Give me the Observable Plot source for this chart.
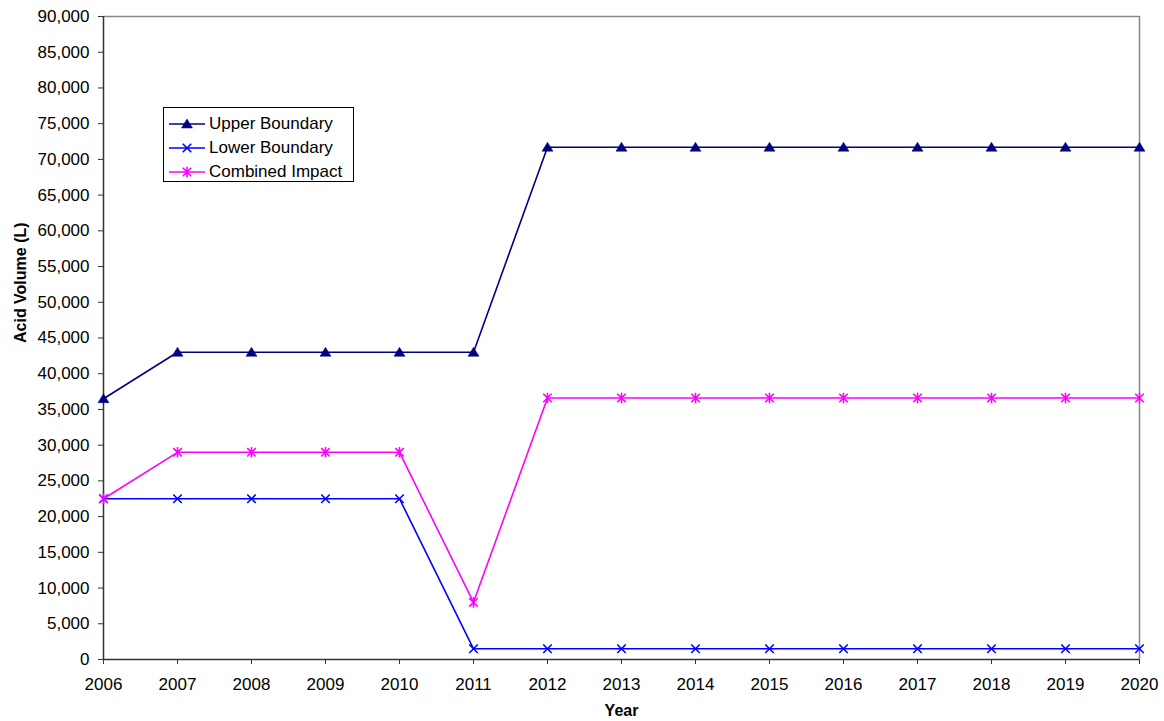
<!DOCTYPE html>
<html>
<head>
<meta charset="utf-8">
<script src="https://cdn.jsdelivr.net/npm/d3@7"></script>
<script src="https://cdn.jsdelivr.net/npm/@observablehq/plot@0.6"></script>
<style>
  body { margin: 0; background: #fff; font-family: "Liberation Sans", Arial, sans-serif; }
  #chart { position: relative; width: 1164px; height: 721px; }
  #legend {
    position: absolute; left: 163px; top: 107px; width: 191px; height: 75px;
    border: 1px solid #000; background: #fff; box-sizing: border-box;
    font-size: 17px; color: #000;
  }
  #legend .row { position: absolute; left: 0; height: 24px; display: flex; align-items: center; }
  #legend .row svg { display: block; }
  #legend .row span { margin-left: 4px; white-space: nowrap; }
</style>
</head>
<body>
<div id="chart"><div id="legend"></div></div>
<script>
// Acid volume by year, three scenarios
const years = [2006, 2007, 2008, 2009, 2010, 2011, 2012, 2013, 2014, 2015, 2016, 2017, 2018, 2019, 2020];
const upperBoundary = [36500, 43000, 43000, 43000, 43000, 43000, 71700, 71700, 71700, 71700, 71700, 71700, 71700, 71700, 71700];
const lowerBoundary = [22500, 22500, 22500, 22500, 22500, 1500, 1500, 1500, 1500, 1500, 1500, 1500, 1500, 1500, 1500];
const combinedImpact = [22500, 29000, 29000, 29000, 29000, 8000, 36600, 36600, 36600, 36600, 36600, 36600, 36600, 36600, 36600];
const seriesNames = ["Upper Boundary", "Lower Boundary", "Combined Impact"];
const seriesColors = ["#000080", "#0000ff", "#ff00ff"];
const yTicks = d3.range(0, 90001, 5000);

// Marker shapes: filled triangle, cross, and cross-with-bar asterisk
const triangleSymbol = {
  draw(ctx, size) {
    const r = Math.sqrt(size) / 2;
    ctx.moveTo(0, -r * 1.0);
    ctx.lineTo(r * 1.1, r * 0.8);
    ctx.lineTo(-r * 1.1, r * 0.8);
    ctx.closePath();
  }
};
const crossSymbol = {
  draw(ctx, size) {
    const r = Math.sqrt(size) / 2;
    ctx.moveTo(-r, -r); ctx.lineTo(r, r);
    ctx.moveTo(-r, r); ctx.lineTo(r, -r);
  }
};
const starSymbol = {
  draw(ctx, size) {
    const r = Math.sqrt(size) / 2;
    ctx.moveTo(-r, -r); ctx.lineTo(r, r);
    ctx.moveTo(-r, r); ctx.lineTo(r, -r);
    ctx.moveTo(0, -r * 1.25); ctx.lineTo(0, r * 1.25);
  }
};
const symbols = [triangleSymbol, crossSymbol, starSymbol];
const markerSizes = [100, 72, 72];

const seriesValues = [upperBoundary, lowerBoundary, combinedImpact];
const rows = seriesValues.map((vals, s) =>
  years.map((year, i) => ({year, value: vals[i], series: seriesNames[s]}))
);

const marks = [
  Plot.ruleY([90000], {stroke: "#888", strokeWidth: 1.5}),
  Plot.ruleX([2020], {stroke: "#888", strokeWidth: 1.5}),
  Plot.axisY({ticks: yTicks, tickFormat: d3.format(","), tickSize: 5, tickPadding: 9,
    fontSize: 17, label: null, stroke: "#333"}),
  Plot.axisX({ticks: years, tickFormat: d => String(d), tickSize: 5, tickPadding: 13,
    fontSize: 17, label: null, stroke: "#333"}),
  Plot.ruleX([2006], {stroke: "#333", strokeWidth: 1.5}),
  Plot.ruleY([0], {stroke: "#333", strokeWidth: 1.5}),
  Plot.text(["Year"], {frameAnchor: "bottom", dy: 56, fontSize: 16, fontWeight: "bold", fill: "#000"}),
  Plot.text(["Acid Volume (L)"], {frameAnchor: "left", dx: -83, dy: 5, rotate: -90, fontSize: 16, fontWeight: "bold", fill: "#000"})
];
rows.forEach((data, s) => {
  marks.push(Plot.line(data, {x: "year", y: "value", stroke: seriesColors[s], strokeWidth: 1.6}));
  marks.push(Plot.dot(data, {
    x: "year", y: "value", symbol: () => symbols[s], r: Math.sqrt(markerSizes[s] / Math.PI),
    fill: s === 0 ? seriesColors[s] : "none", stroke: seriesColors[s], strokeWidth: s === 0 ? 0.5 : 1.6
  }));
});

const chart = Plot.plot({
  width: 1164,
  height: 721,
  marginLeft: 103,
  marginRight: 25,
  marginTop: 16,
  marginBottom: 62,
  style: {fontFamily: "'Liberation Sans', Arial, sans-serif", fontSize: "17px", color: "#000", background: "#fff"},
  x: {domain: [2006, 2020]},
  y: {domain: [0, 90000]},
  symbol: {type: "identity"},
  marks
});
document.getElementById("chart").prepend(chart);

// Legend entries with line + marker swatches
const legend = d3.select("#legend");
seriesNames.forEach((name, s) => {
  const row = legend.append("div").attr("class", "row").style("top", (4 + s * 24) + "px").style("left", "5px");
  const svg = row.append("svg").attr("width", 36).attr("height", 20);
  svg.append("line").attr("x1", 0).attr("x2", 36).attr("y1", 10).attr("y2", 10)
    .attr("stroke", seriesColors[s]).attr("stroke-width", 1.6);
  svg.append("path").attr("transform", "translate(18,10)")
    .attr("d", d3.symbol(symbols[s], markerSizes[s])())
    .attr("fill", s === 0 ? seriesColors[s] : "none")
    .attr("stroke", seriesColors[s]).attr("stroke-width", s === 0 ? 0.5 : 1.6);
  row.append("span").text(name);
});
</script>
</body>
</html>
